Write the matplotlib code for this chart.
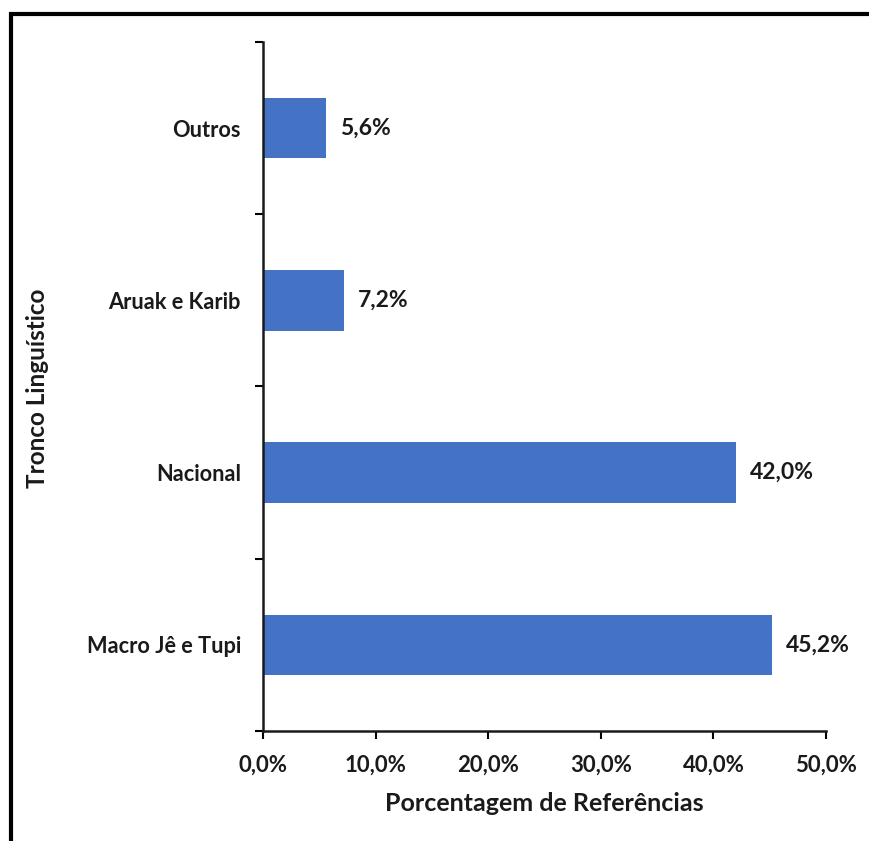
import numpy as np
import matplotlib
matplotlib.use("Agg")
import matplotlib.pyplot as plt
from matplotlib.patches import Rectangle
from matplotlib.ticker import FuncFormatter, FixedLocator

# data (bottom to top)
categories = ["Macro Jê e Tupi", "Nacional", "Aruak e Karib", "Outros"]
values = [45.2, 42.0, 7.2, 5.6]

plt.rcParams['font.family'] = ['Lato', 'DejaVu Sans']
plt.rcParams['font.weight'] = 'bold'

W, H = 869, 841
fig = plt.figure(figsize=(W / 100, H / 100), dpi=100)
ax = fig.add_axes([263 / W, 1 - 731 / H, (826 - 263) / W, (731 - 42) / H])

y = np.arange(len(categories))
ax.barh(y, values, height=0.35, color='#4472C4', zorder=2)

for yi, v in zip(y, values):
    ax.text(v + 1.2, yi, f"{v:.1f}".replace('.', ',') + '%', va='center', ha='left',
            fontsize=16.5, fontweight='bold', color='#1a1a1a')

ax.set_xlim(0, 50)
ax.set_ylim(-0.5, len(categories) - 0.5)
ax.set_xticks(np.arange(0, 51, 10))
ax.xaxis.set_major_formatter(FuncFormatter(lambda x, p: f"{x:.1f}".replace('.', ',') + '%'))

# category labels at centres, tick marks at boundaries
ax.set_yticks(y)
ax.set_yticklabels(categories)
ax.yaxis.set_minor_locator(FixedLocator(np.arange(-0.5, len(categories), 1.0)))
ax.tick_params(axis='y', which='major', length=0, pad=16, labelsize=15.7)
ax.tick_params(axis='y', which='minor', length=6, width=1.5, direction='out')
ax.tick_params(axis='x', which='major', length=6, width=1.5, direction='out', pad=11, labelsize=16)

for s in ['top', 'right']:
    ax.spines[s].set_visible(False)
for s in ['left', 'bottom']:
    ax.spines[s].set_linewidth(1.8)
    ax.spines[s].set_color('#1a1a1a')

ax.set_xlabel('Porcentagem de Referências', fontsize=18, fontweight='bold', labelpad=12, color='#1a1a1a')
fig.text(38 / W, 1 - 388 / H, 'Tronco Linguístico', rotation=90, ha='center', va='center',
         fontsize=17.5, fontweight='bold', color='#1a1a1a')

for lab in ax.get_xticklabels() + ax.get_yticklabels():
    lab.set_color('#1a1a1a')

# outer frame (top and left visible, cut off at right and bottom)
fig.patches.append(Rectangle((11 / W, -0.05), 1.1, 1 - 14 / H + 0.05, transform=fig.transFigure,
                             fill=False, edgecolor='black', linewidth=3))

fig.savefig('out.png', dpi=100)
